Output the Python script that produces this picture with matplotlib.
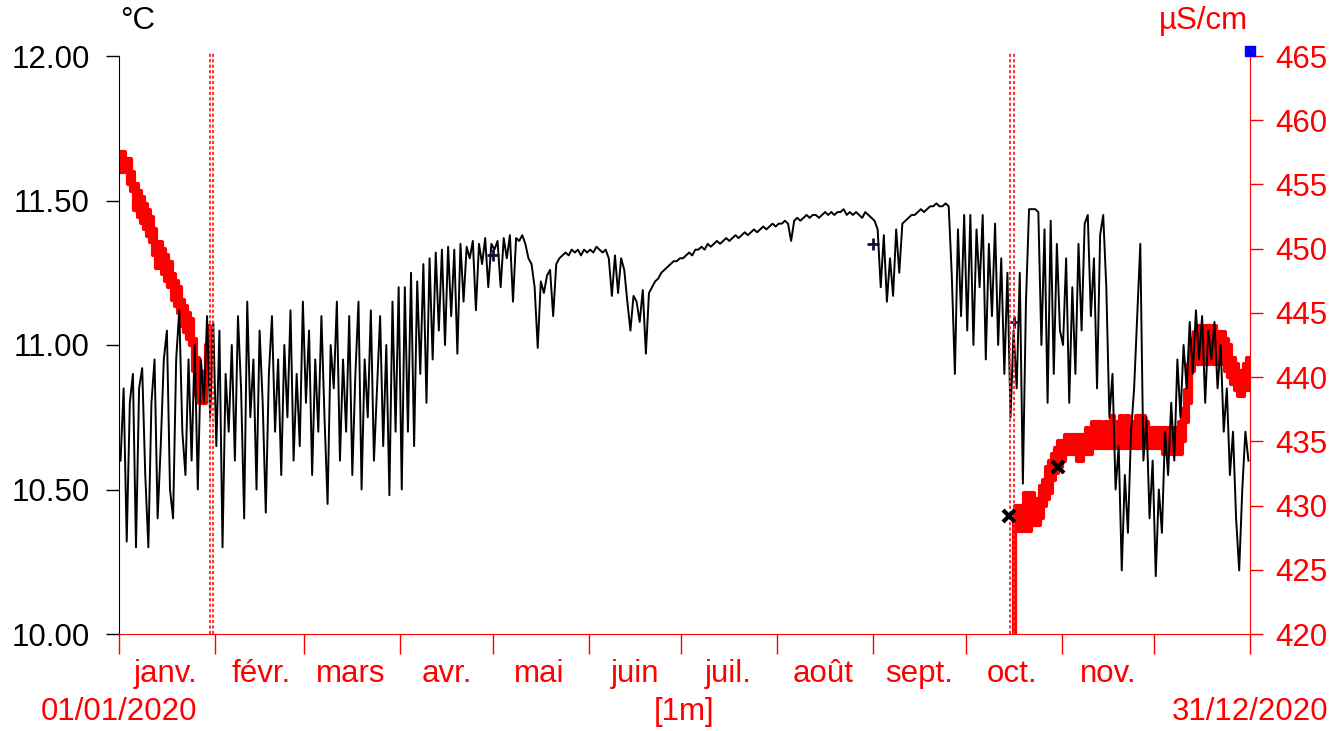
import numpy as np
import pandas as pd
import matplotlib
matplotlib.use('Agg')
import matplotlib.pyplot as plt
import matplotlib.dates as mdates

plt.rcParams['font.family'] = ['Liberation Sans', 'DejaVu Sans']

# daily temperature readings (°C), one value per day of 2020
temp_jan = [10.60, 10.85, 10.32, 10.80, 10.90, 10.30, 10.85, 10.92, 10.55, 10.30, 10.80,
            10.95, 10.40, 10.65, 10.95, 11.05, 10.50, 10.40, 10.95, 11.12, 10.70, 10.55,
            10.95, 10.60, 11.00, 10.50, 10.95, 10.80, 11.10, 10.75, 11.08]
temp_feb = [10.65, 11.05, 10.30, 10.90, 10.70, 11.00, 10.60, 11.10, 10.85, 10.40, 11.15,
            10.75, 10.95, 10.50, 11.05, 10.80, 10.42, 10.90, 11.10, 10.70, 10.95, 10.55,
            11.00, 10.75, 11.12, 10.60, 10.90, 10.65, 11.15]
temp_mar = [10.80, 11.05, 10.55, 10.95, 10.70, 11.10, 10.75, 10.45, 11.00, 10.85, 11.15,
            10.60, 10.95, 10.70, 11.10, 10.55, 10.90, 11.15, 10.50, 10.95, 10.75, 11.12,
            10.60, 10.85, 11.10, 10.65, 11.00, 10.48, 11.15, 10.70, 11.20]
temp_apr = [10.50, 11.20, 10.70, 11.25, 10.65, 11.22, 10.90, 11.28, 10.80, 11.30, 10.95,
            11.32, 11.05, 11.33, 11.00, 11.34, 11.10, 11.33, 10.97, 11.35, 11.15, 11.34,
            11.30, 11.36, 11.12, 11.35, 11.28, 11.37, 11.20, 11.35]
temp_may = [11.33, 11.36, 11.20, 11.37, 11.30, 11.38, 11.15, 11.37, 11.36, 11.38, 11.35,
            11.30, 11.28, 11.20, 10.99, 11.22, 11.18, 11.24, 11.26, 11.10, 11.28, 11.30,
            11.31, 11.32, 11.31, 11.33, 11.32, 11.33, 11.31, 11.33, 11.32]
temp_jun = [11.33, 11.32, 11.34, 11.33, 11.32, 11.33, 11.30, 11.17, 11.31, 11.18, 11.30,
            11.26, 11.15, 11.05, 11.17, 11.15, 11.08, 11.19, 10.97, 11.18, 11.20, 11.22,
            11.23, 11.25, 11.26, 11.27, 11.28, 11.29, 11.29, 11.30]
temp_jul = [11.30, 11.31, 11.32, 11.31, 11.33, 11.33, 11.34, 11.33, 11.35, 11.34, 11.35,
            11.36, 11.35, 11.36, 11.37, 11.36, 11.37, 11.38, 11.37, 11.38, 11.39, 11.38,
            11.39, 11.40, 11.39, 11.40, 11.41, 11.40, 11.41, 11.42, 11.41]
temp_aug = [11.42, 11.42, 11.43, 11.42, 11.36, 11.43, 11.44, 11.43, 11.44, 11.45, 11.44,
            11.45, 11.45, 11.44, 11.45, 11.46, 11.45, 11.46, 11.45, 11.46, 11.46, 11.47,
            11.45, 11.46, 11.45, 11.46, 11.45, 11.44, 11.46, 11.45, 11.44]
temp_sep = [11.43, 11.40, 11.20, 11.38, 11.15, 11.30, 11.17, 11.40, 11.25, 11.42, 11.43,
            11.44, 11.45, 11.45, 11.46, 11.47, 11.46, 11.47, 11.48, 11.48, 11.49, 11.48,
            11.48, 11.49, 11.48, 11.24, 10.90, 11.40, 11.10, 11.45]
temp_oct = [11.05, 11.45, 11.00, 11.40, 11.20, 11.45, 10.95, 11.35, 11.10, 11.42, 11.00,
            11.30, 10.90, 11.25, 10.75, 11.05, 10.85, 11.25, 10.52, 11.15, 11.47, 11.47,
            11.47, 11.46, 11.00, 11.40, 10.80, 11.43, 10.90, 11.35, 11.05]
temp_nov = [11.00, 11.30, 10.80, 11.20, 10.90, 11.35, 11.05, 11.42, 11.45, 11.10, 11.30,
            10.85, 11.38, 11.45, 11.20, 10.75, 10.90, 10.50, 10.65, 10.22, 10.55, 10.35,
            10.70, 10.85, 11.10, 11.35, 10.60, 10.75, 10.40, 10.60]
temp_dec = [10.20, 10.50, 10.35, 10.70, 10.55, 10.80, 10.60, 10.95, 10.75, 11.00, 10.85,
            11.08, 10.90, 11.12, 10.95, 11.10, 10.80, 11.05, 10.95, 11.08, 10.85, 11.00,
            10.70, 10.85, 10.55, 10.70, 10.40, 10.22, 10.50, 10.70, 10.60]
temp = (temp_jan + temp_feb + temp_mar + temp_apr + temp_may + temp_jun
        + temp_jul + temp_aug + temp_sep + temp_oct + temp_nov + temp_dec)
temp_days = np.arange(len(temp)) + 0.5

# conductivity (µS/cm), daily min / max, first period (January)
cond1_days = list(range(30)) + [29.5]
cond1_lo = [456, 456, 456, 455, 454.5, 453, 452.5, 452, 451.5, 451, 450.5, 449.5, 448.5,
            448.5, 448, 447.5, 447, 446, 445.5, 445, 444, 443.5, 443, 442.5, 440.5, 438.5,
            438, 438, 439.5, 441.5, 441.5]
cond1_hi = [457.5, 457.5, 457, 457, 456, 455, 454.5, 454, 453.5, 453, 452.5, 451.5, 450.5,
            450.5, 450, 449.5, 449, 448, 447.5, 447, 446, 445.5, 445, 444.5, 443, 441.5,
            440.5, 440, 442.5, 444, 444]

# conductivity, second period (mid-October to end of year)
cond2_days = [289.6, 289.9] + list(range(290, 366)) + [366]
cond2_lo = [420, 428,
            428, 428, 428, 428, 428, 428.5, 428.5, 428.5, 429, 430,
            430.5, 431, 432, 432.5, 433, 433.5, 434, 434, 434, 434,
            433.5, 433.5, 434, 434, 434, 434.5, 434.5, 434.5, 434.5, 434.5,
            434.5, 434.5, 434.5, 434.5, 434.5, 434.5, 434.5, 434.5, 434.5, 434.5,
            434.5, 434.5, 434.5, 434.5, 434.5, 434.5, 434.5, 434.5, 434, 434,
            434, 434, 434, 434, 435, 436.5, 438, 440.5, 441, 441,
            441, 441, 441, 441.5, 441, 441, 441, 441, 440.5, 440,
            439.5, 439, 438.5, 438.5, 439, 439,
            439]
cond2_hi = [429, 430,
            430, 430, 430, 431, 431, 431, 430.5, 430.5, 431.5, 432,
            433, 433.5, 434, 434.5, 435, 435, 435.5, 435.5, 435.5, 435.5,
            435.5, 435.5, 435.5, 436, 436, 436.5, 436.5, 436.5, 436, 436.5,
            436.5, 437, 436.5, 436.5, 437, 436.5, 437, 436.5, 436.5, 437,
            437, 437, 436.5, 436, 436, 436, 436, 436, 436, 436,
            436, 436, 436, 436.5, 437.5, 439, 441, 443, 443.5, 444,
            444, 444, 444, 444, 444, 443.5, 443.5, 443.5, 443, 442.5,
            441.5, 441, 440.5, 440.5, 441, 441.5,
            441.5]

# event markers
event_days = [29.45, 30.5, 288.4, 289.7]
cross_days = [288.0, 304.0]
cross_cond = [429.2, 433.0]
plus_days = [244.0, 121.0, 289.5]
plus_temp = [11.35, 11.31, 11.08]

month_labels = ['janv.', 'févr.', 'mars', 'avr.', 'mai', 'juin', 'juil.', 'août',
                'sept.', 'oct.', 'nov.', '']
temp_ticks = [10.0, 10.5, 11.0, 11.5, 12.0]
cond_ticks = [420, 425, 430, 435, 440, 445, 450, 455, 460, 465]

start = pd.Timestamp('2020-01-01')


def to_date(d):
    return (start + pd.to_timedelta(np.asarray(d, dtype=float), unit='D')).to_numpy()


RED = '#ff0000'
FS = 22.5

fig = plt.figure(figsize=(13.37, 7.31), dpi=100)
ax = fig.add_axes([119 / 1337, 97 / 731, 1131 / 1337, 578 / 731])
ax2 = ax.twinx()
ax.set_zorder(ax2.get_zorder() + 1)
ax.patch.set_visible(False)

# conductivity bands
for days, lo, hi in [(cond1_days, cond1_lo, cond1_hi), (cond2_days, cond2_lo, cond2_hi)]:
    ax2.fill_between(to_date(days), lo, hi, step='post', facecolor=RED,
                     edgecolor=RED, lw=3.0)

# temperature line
ax.plot(to_date(temp_days), temp, color='black', lw=1.4)
ax.plot(to_date(plus_days), plus_temp, '+', color='#101040', ms=9, mew=2)
ax.plot(to_date(cross_days), [10 + (c - 420) / 22.5 for c in cross_cond], 'x',
        color='black', ms=8, mew=3, zorder=5)
ax2.plot(to_date([366]), [465.4], 's', color='#0000ff', ms=7.5, clip_on=False, zorder=6)

for d in event_days:
    ax.axvline(to_date([d])[0], ymax=1.007, color='#ff3030', lw=1.4,
               ls=(0, (1.6, 1.2)), clip_on=False)

ax.set_xlim(to_date([0])[0], to_date([366])[0])
ax.set_ylim(10, 12)
ax2.set_ylim(420, 465)

# spines
for s in ['top', 'right']:
    ax.spines[s].set_visible(False)
for s in ['top', 'left', 'bottom']:
    ax2.spines[s].set_visible(False)
ax.spines['left'].set_color('black')
ax.spines['bottom'].set_color(RED)
ax2.spines['right'].set_color(RED)

ax.set_yticks(temp_ticks)
ax.set_yticklabels(['%.2f' % v for v in temp_ticks])
ax.tick_params(axis='y', direction='out', length=9.4, width=1, pad=11.5,
               labelsize=FS, colors='black')
ax2.set_yticks(cond_ticks)
ax2.set_yticklabels([str(v) for v in cond_ticks])
ax2.tick_params(axis='y', direction='out', length=9.4, width=1, pad=8.6,
                labelsize=FS, colors=RED)

ax.xaxis.set_major_locator(mdates.MonthLocator())
ax.xaxis.set_major_formatter(plt.NullFormatter())
ax.xaxis.set_minor_locator(mdates.MonthLocator(bymonthday=16))
ax.set_xticklabels(month_labels, minor=True)
ax.tick_params(axis='x', which='major', direction='out', length=14.4, width=1, color=RED)
ax.tick_params(axis='x', which='minor', length=0, pad=18, labelsize=FS, labelcolor=RED)

fig.text(119 / 1337, 1 - 712 / 731, '01/01/2020', color=RED, fontsize=FS,
         ha='center', va='center')
fig.text(1250 / 1337, 1 - 712 / 731, '31/12/2020', color=RED, fontsize=FS,
         ha='center', va='center')
fig.text(684 / 1337, 1 - 712 / 731, '[1m]', color=RED, fontsize=FS,
         ha='center', va='center')
fig.text(120 / 1337, 1 - 21 / 731, '°C', color='black', fontsize=FS,
         ha='left', va='center')
fig.text(1248 / 1337, 1 - 21 / 731, 'µS/cm', color=RED, fontsize=FS,
         ha='right', va='center')

fig.savefig('out.png', dpi=100)
